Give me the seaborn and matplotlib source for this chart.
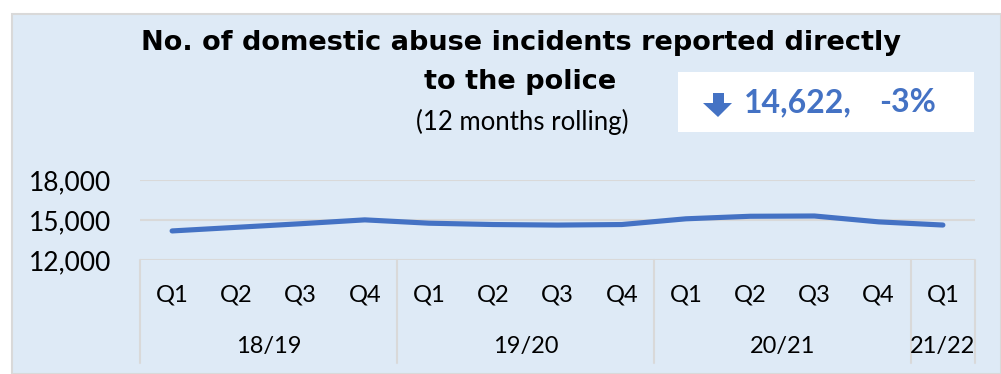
import matplotlib
matplotlib.use("Agg")
import matplotlib.pyplot as plt
import matplotlib.transforms as mtransforms
from matplotlib.patches import Rectangle, Polygon
import seaborn as sns
import pandas as pd

# Quarterly series (12 months rolling)
years = ["18/19", "18/19", "18/19", "18/19",
         "19/20", "19/20", "19/20", "19/20",
         "20/21", "20/21", "20/21", "20/21",
         "21/22"]
quarters = ["Q1", "Q2", "Q3", "Q4",
            "Q1", "Q2", "Q3", "Q4",
            "Q1", "Q2", "Q3", "Q4",
            "Q1"]
incidents = [14180, 14450, 14720, 15010,
             14760, 14660, 14620, 14660,
             15090, 15280, 15300, 14860,
             14622]
year_groups = ["18/19", "19/20", "20/21", "21/22"]
y_ticks = [12000, 15000, 18000]

latest_value = 14622
latest_change = "-3%"

W, H, DPI = 1001, 374, 100
BG = "#DEEAF6"
GRID = "#D9D9D9"
BLUE = "#4472C4"

sns.set_theme(style="white")
plt.rcParams["font.family"] = ["Lato", "DejaVu Sans"]

fig = plt.figure(figsize=(W / DPI, H / DPI), dpi=DPI, facecolor="white")


def fx(px):
    return px / W


def fy(py):
    return 1 - py / H


# light blue panel with a thin grey frame
fig.patches.append(Rectangle((fx(12), 0), (W - 12) / W, (H - 14) / H,
                             transform=fig.transFigure, facecolor=BG,
                             edgecolor=GRID, linewidth=1.5, zorder=-10))

# plot area in pixels: x 140..975, y 180..260
left, right, top, bottom = 140, 975, 180, 260
ax = fig.add_axes([fx(left), fy(bottom), (right - left) / W, (bottom - top) / H])
ax.set_facecolor("none")
ax.set_zorder(5)

df = pd.DataFrame({"idx": range(len(incidents)), "incidents": incidents,
                   "quarter": quarters, "year": years})
sns.lineplot(data=df, x="idx", y="incidents", ax=ax, color=BLUE,
             linewidth=3.7, solid_capstyle="round", solid_joinstyle="round",
             zorder=3)

ax.set_xlim(-0.5, len(incidents) - 0.5)
ax.set_ylim(y_ticks[0], y_ticks[-1])
ax.set_yticks(y_ticks)
ax.set_yticklabels([f"{v:,}" for v in y_ticks], fontsize=19, color="black")
ax.tick_params(axis="y", length=0, pad=21)
ax.set_xticks([])
ax.set_xlabel("")
ax.set_ylabel("")
for s in ax.spines.values():
    s.set_visible(False)
for v in y_ticks:
    ax.axhline(v, color=GRID, linewidth=1.5, zorder=1)

# two-level category axis beneath the plot
trans = mtransforms.blended_transform_factory(ax.transData, ax.transAxes)
ph = bottom - top
q_y = -(295 - bottom) / ph
yr_y = -(347 - bottom) / ph
sep_bottom = -(363 - bottom) / ph
for i, q in enumerate(quarters):
    ax.text(i, q_y, q, transform=trans, ha="center", va="center",
            fontsize=17, color="black")

bounds = [-0.5]
for i in range(1, len(years)):
    if years[i] != years[i - 1]:
        bounds.append(i - 0.5)
bounds.append(len(years) - 0.5)
for b in bounds:
    ax.plot([b, b], [0, sep_bottom], transform=trans, color=GRID,
            linewidth=1.5, clip_on=False, zorder=1)
for g, (a, b) in zip(year_groups, zip(bounds[:-1], bounds[1:])):
    ax.text((a + b) / 2, yr_y, g, transform=trans, ha="center", va="center",
            fontsize=17, color="black")

# title block
title_font = ["DejaVu Sans"]
fig.text(fx(521), fy(43), "No. of domestic abuse incidents reported directly",
         ha="center", va="center", fontsize=19.5, fontweight="bold",
         family=title_font, color="black")
fig.text(fx(520), fy(82), "to the police",
         ha="center", va="center", fontsize=19.5, fontweight="bold",
         family=title_font, color="black")
fig.text(fx(522), fy(122), "(12 months rolling)",
         ha="center", va="center", fontsize=18.5, color="black")

# headline box with the latest value
fig.patches.append(Rectangle((fx(678), fy(132)), (974 - 678) / W, 60 / H,
                             transform=fig.transFigure, facecolor="white",
                             edgecolor="none", zorder=1))
arrow_px = [(713, 93), (724, 93), (724, 103), (732, 103), (718, 117),
            (703, 103), (713, 103)]
fig.patches.append(Polygon([(fx(x), fy(y)) for x, y in arrow_px],
                           closed=True, transform=fig.transFigure,
                           facecolor=BLUE, edgecolor="none", zorder=2))
fig.text(fx(744), fy(103), f"{latest_value:,},", ha="left", va="center",
         fontsize=23, fontweight="bold", color=BLUE)
fig.text(fx(879), fy(103), latest_change, ha="left", va="center",
         fontsize=23, fontweight="bold", color=BLUE)

fig.savefig("out.png", dpi=DPI, facecolor="white")
